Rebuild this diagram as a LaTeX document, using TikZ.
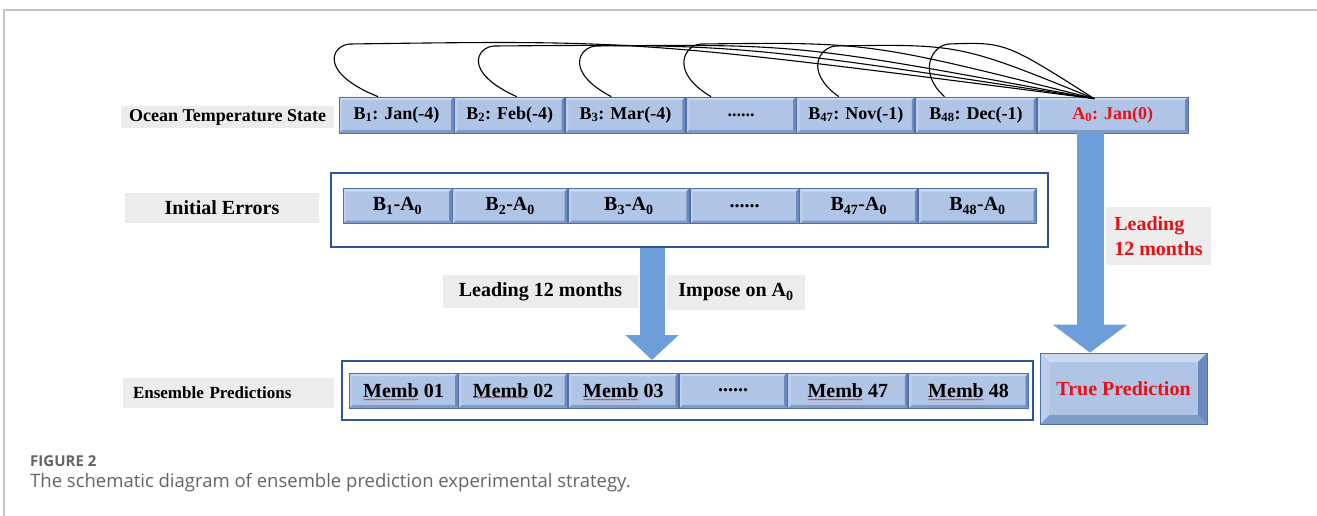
\documentclass[tikz,border=0pt]{standalone}
\usepackage{fontspec}
\setmainfont{Liberation Serif}
\newfontfamily\capfont{Open Sans}
\usepackage{tikz}
\usetikzlibrary{
    arrows.meta,
    calc,
    positioning,
    decorations.pathmorphing
}

\definecolor{cellface}{RGB}{176,197,230}
\definecolor{cellline}{RGB}{79,113,168}
\definecolor{bevtop}{RGB}{203,217,240}
\definecolor{bevleft}{RGB}{188,206,234}
\definecolor{bevbottom}{RGB}{127,155,200}
\definecolor{bevright}{RGB}{106,137,188}
\definecolor{framecol}{RGB}{47,85,151}
\definecolor{arrowblue}{RGB}{110,158,218}
\definecolor{labgray}{RGB}{236,236,236}
\definecolor{redtext}{RGB}{232,16,24}
\definecolor{pagegray}{RGB}{196,196,196}
\definecolor{captext}{RGB}{100,100,100}

\newcommand{\bevelfaces}[1]{%
  \fill[bevtop] (path picture bounding box.north west) -- (path picture bounding box.north east)
    -- ([shift={(-#1,-#1)}]path picture bounding box.north east)
    -- ([shift={(#1,-#1)}]path picture bounding box.north west) -- cycle;
  \fill[bevbottom] (path picture bounding box.south west) -- (path picture bounding box.south east)
    -- ([shift={(-#1,#1)}]path picture bounding box.south east)
    -- ([shift={(#1,#1)}]path picture bounding box.south west) -- cycle;
  \fill[bevleft] (path picture bounding box.north west) -- (path picture bounding box.south west)
    -- ([shift={(#1,#1)}]path picture bounding box.south west)
    -- ([shift={(#1,-#1)}]path picture bounding box.north west) -- cycle;
  \fill[bevright] (path picture bounding box.north east) -- (path picture bounding box.south east)
    -- ([shift={(-#1,#1)}]path picture bounding box.south east)
    -- ([shift={(-#1,-#1)}]path picture bounding box.north east) -- cycle;
}

\tikzset{
    cell/.style={draw=cellline, line width=0.7pt, fill=cellface, inner sep=0pt,
        minimum height=35, path picture={\bevelfaces{3pt}},
        font=\bfseries\fontsize{20}{22}\selectfont},
    topcell/.style={cell, minimum height=36, font=\bfseries\fontsize{18}{20}\selectfont},
    bigcell/.style={cell, path picture={\bevelfaces{9pt}}},
    rowlabel/.style={fill=labgray, inner sep=0pt, font=\bfseries\fontsize{20}{25}\selectfont},
    groupbox/.style={draw=framecol, line width=2pt, fill=white, inner sep=0pt},
    bigarrow/.style={draw=arrowblue, line width=25pt, -{Triangle[width=52pt,length=25pt]}},
    loopline/.style={black, line width=1.1pt},
    spell/.style={red, line width=0.4pt, decorate,
        decoration={snake, amplitude=0.6pt, segment length=2.5pt}}
}

\begin{document}
\begin{tikzpicture}[x=1pt, y=-1pt]
\useasboundingbox (0,0) rectangle (1317,516);

% Page frame
\draw[pagegray, line width=1.5pt] (4,516) -- (4,10) -- (1317,10);


% Ocean temperature state
\node[rowlabel, minimum width=213, minimum height=22, font=\bfseries\fontsize{18}{20}\selectfont] (oceanlab) at (227.5,117) {Ocean Temperature State};
\node[topcell, minimum width=115] (b1) at (396.5,115) {B\textsubscript{1}: Jan(-4)};
\node[topcell, minimum width=110, right=0pt of b1] (b2) {B\textsubscript{2}: Feb(-4)};
\node[topcell, minimum width=120, right=0pt of b2] (b3) {B\textsubscript{3}: Mar(-4)};
\node[topcell, minimum width=110, right=0pt of b3] (bdots) {......};
\node[topcell, minimum width=118, right=0pt of bdots] (b47) {B\textsubscript{47}: Nov(-1)};
\node[topcell, minimum width=121, right=0pt of b47] (b48) {B\textsubscript{48}: Dec(-1)};
\node[topcell, minimum width=151, right=0pt of b48, text=redtext] (a0) {A\textsubscript{0}: Jan(0)};

% Loops into A0
\coordinate (a0end) at ($(a0.north)+(-18.5,2)$);
\draw[loopline] ($(b1.north)+(-18.5,0)$) .. controls (317,72) and (332,45) .. (350,44) .. controls (640,40) .. (a0end);
\draw[loopline] ($(b2.north)+(7,0)$) .. controls (462,72) and (477,47) .. (494,46) .. controls (740,44) .. (a0end);
\draw[loopline] ($(b3.north)+(-14,0)$) .. controls (564,72) and (579,47) .. (596,46) .. controls (800,44) .. (a0end);
\draw[loopline] ($(bdots.north)+(-30,0)$) .. controls (669,72) and (684,45) .. (701,44) .. controls (870,42) .. (a0end);
\draw[loopline] ($(b47.north)+(-17,0)$) .. controls (804,72) and (819,47) .. (836,46) .. controls (960,44) .. (a0end);
\draw[loopline] ($(b48.north)+(-31.5,0)$) .. controls (917,72) and (932,45) .. (949,44) .. controls (1005,42) .. (a0end);


% Initial errors
\node[rowlabel, minimum width=194, minimum height=30] (errlab) at (222,208) {Initial Errors};
\node[groupbox, minimum width=717, minimum height=74] (errframe) at (689.5,210) {};
\node[cell, minimum width=109] (e1) at (397.5,206) {B\textsubscript{1}-A\textsubscript{0}};
\node[cell, minimum width=115, right=0pt of e1] (e2) {B\textsubscript{2}-A\textsubscript{0}};
\node[cell, minimum width=121, right=0pt of e2] (e3) {B\textsubscript{3}-A\textsubscript{0}};
\node[cell, minimum width=109, right=0pt of e3] (edots) {......};
\node[cell, minimum width=118, right=0pt of edots] (e47) {B\textsubscript{47}-A\textsubscript{0}};
\node[cell, minimum width=118, right=0pt of e47] (e48) {B\textsubscript{48}-A\textsubscript{0}};


% Ensemble predictions
\node[rowlabel, minimum width=211, minimum height=30, text width=191, align=left, font=\bfseries\fontsize{17}{20}\selectfont] (enslab) at (228.5,393) {Ensemble Predictions};
\node[groupbox, minimum width=691, minimum height=59] (ensframe) at (687.5,390.5) {};
\node[cell, minimum width=109] (m1) at (403.5,390.5) {Memb 01};
\node[cell, minimum width=109, right=0pt of m1] (m2) {Memb 02};
\node[cell, minimum width=110, right=0pt of m2] (m3) {Memb 03};
\node[cell, minimum width=108, right=0pt of m3] (mdots) {......};
\node[cell, minimum width=120, right=0pt of mdots] (m47) {Memb 47};
\node[cell, minimum width=120, right=0pt of m47] (m48) {Memb 48};
\draw[spell] ($(m1.center)+(-40,9)$) -- ++(55,0);
\draw[spell] ($(m2.center)+(-40,7)$) -- ++(55,0);
\draw[spell] ($(m3.center)+(-40,9)$) -- ++(55,0);
\draw[spell] ($(m47.center)+(-40,9)$) -- ++(55,0);
\draw[spell] ($(m48.center)+(-40,9)$) -- ++(55,0);

% True prediction
\node[bigcell, minimum width=167, minimum height=71, text=redtext] (truth) at (1123.5,388.5) {True Prediction};


% Arrows and their labels
\coordinate (midx) at (652,0);
\draw[bigarrow] (errframe.south -| midx) -- (ensframe.north -| midx);
\node[rowlabel, minimum width=195, minimum height=33] (leadlab) at (540.5,291.5) {Leading 12 months};
\node[rowlabel, minimum width=138, minimum height=35] (implab) at (736,292.5) {Impose on A\textsubscript{0}};

\coordinate (rightx) at (1090,0);
\draw[bigarrow, line width=27pt, -{Triangle[width=73pt,length=28pt]}] (a0.south -| rightx) -- (truth.north -| rightx);
\node[rowlabel, minimum width=105, minimum height=58, text=redtext, align=left] (redlab) at (1158.5,236) {Leading\\12 months};


% Caption
\node[anchor=base west, inner sep=0pt, text=captext, font=\capfont\bfseries\fontsize{15}{18}\selectfont] (fignum) at (30,466) {FIGURE 2};
\node[anchor=base west, inner sep=0pt, text=captext, font=\capfont\fontsize{18.5}{22}\selectfont] (figcap) at (30,487) {The schematic diagram of ensemble prediction experimental strategy.};

\end{tikzpicture}
\end{document}
